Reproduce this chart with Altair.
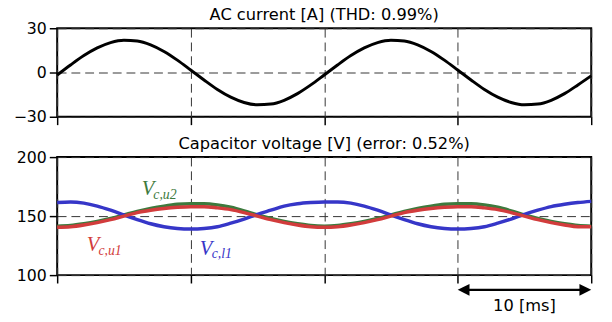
import altair as alt
import pandas as pd

# time axis [ms]
t_ms = list(range(0, 41))

# AC current [A]
current = [-1.7, 5.1, 11.5, 16.7, 20.3, 21.9, 21.4, 18.8, 14.3, 8.4,
           1.7, -5.1, -11.5, -16.7, -20.3, -21.9, -21.4, -18.8, -14.3, -8.4,
           -1.7, 5.1, 11.5, 16.7, 20.3, 21.9, 21.4, 18.8, 14.3, 8.4,
           1.7, -5.1, -11.5, -16.7, -20.3, -21.9, -21.4, -18.8, -14.3, -8.4,
           -2.2]

# Capacitor voltages [V]
v_l1 = [161.5, 162.0, 161.0, 158.5, 155.0, 151.0, 147.0, 143.5, 141.0, 139.5,
        139.0, 139.5, 141.0, 144.0, 147.5, 151.5, 155.0, 158.5, 160.5, 161.5,
        162.0, 162.0, 161.0, 158.5, 155.0, 151.0, 147.0, 143.5, 141.0, 139.5,
        139.0, 139.5, 141.0, 144.0, 147.5, 151.5, 155.0, 158.0, 160.0, 161.5,
        162.5]
v_u1 = [140.5, 141.0, 142.5, 144.5, 147.0, 150.0, 153.0, 155.0, 156.5, 157.5,
        158.0, 158.0, 157.0, 155.5, 153.0, 150.0, 147.0, 144.5, 142.5, 141.0,
        140.5, 141.0, 142.5, 144.5, 147.0, 150.0, 153.0, 155.0, 156.5, 157.5,
        158.0, 158.0, 157.0, 155.5, 153.0, 150.0, 147.0, 144.5, 142.5, 141.0,
        141.0]
v_u2 = [141.5, 142.0, 143.5, 145.5, 148.0, 151.0, 154.0, 156.5, 158.5, 160.0,
        160.5, 160.5, 159.5, 157.5, 154.5, 151.0, 148.0, 145.5, 143.5, 142.0,
        141.5, 142.0, 143.5, 145.5, 148.0, 151.0, 154.0, 156.5, 158.5, 160.0,
        160.5, 160.5, 159.5, 157.5, 154.5, 151.0, 148.0, 145.5, 143.5, 142.0,
        141.5]

series_names = ["Vc,u2", "Vc,l1", "Vc,u1"]
series_colors = ["#3d7a3d", "#3636c8", "#d23c3c"]

df_i = pd.DataFrame({"t": t_ms, "i": current})
df_v = pd.concat([
    pd.DataFrame({"t": t_ms, "v": v_u2, "s": "Vc,u2", "o": 0}),
    pd.DataFrame({"t": t_ms, "v": v_l1, "s": "Vc,l1", "o": 1}),
    pd.DataFrame({"t": t_ms, "v": v_u1, "s": "Vc,u1", "o": 2}),
])
one = pd.DataFrame({"k": [0]})

FONT = "DejaVu Sans"
SERIF = "Liberation Serif"
W = 543

xaxis = alt.Axis(values=[0, 10, 20, 30, 40], labels=False, title=None, grid=True,
                 gridDash=[9, 5], gridColor="#333333", gridOpacity=1, gridWidth=1,
                 tickSize=8, tickColor="black", tickWidth=1.5, domain=False)
xscale = alt.Scale(domain=[0, 40], nice=False, zero=False)


def yaxis(vals):
    return alt.Axis(values=vals, title=None, grid=True, gridDash=[9, 5],
                    gridColor="#333333", gridOpacity=1, gridWidth=1, tickSize=8,
                    tickColor="black", tickWidth=1.5, domain=False, labelFont=FONT,
                    labelFontSize=16, labelColor="black", labelPadding=3)


def title_mark(text):
    return alt.Chart(one).mark_text(font=FONT, fontSize=16.5, fontWeight="normal", color="black",
                                    baseline="alphabetic", align="center").encode(
        x=alt.value(W / 2), y=alt.value(-8.5), text=alt.value(text))


top_line = alt.Chart(df_i).mark_line(color="black", strokeWidth=3, interpolate="monotone").encode(
    x=alt.X("t:Q", scale=xscale, axis=xaxis),
    y=alt.Y("i:Q", scale=alt.Scale(domain=[-30, 30], nice=False), axis=yaxis([-30, 0, 30])),
)
top = alt.layer(top_line, title_mark("AC current [A] (THD: 0.99%)")).properties(width=W, height=90)

lines = alt.Chart(df_v).mark_line(strokeWidth=3.5, interpolate="monotone").encode(
    x=alt.X("t:Q", scale=xscale, axis=xaxis),
    y=alt.Y("v:Q", scale=alt.Scale(domain=[100, 200], nice=False, zero=False),
            axis=yaxis([100, 150, 200])),
    color=alt.Color("s:N", scale=alt.Scale(domain=series_names, range=series_colors), legend=None),
    order="o:Q",
)

lab_V = pd.DataFrame({"t": [6.33, 2.21, 10.68], "v": [168.1, 120.6, 117.3],
                      "txt": ["V", "V", "V"], "s": ["Vc,u2", "Vc,u1", "Vc,l1"]})
lab_sub = pd.DataFrame({"t": [7.2, 3.09, 11.57], "v": [164.8, 117.3, 114.8],
                        "txt": ["c,u2", "c,u1", "c,l1"], "s": ["Vc,u2", "Vc,u1", "Vc,l1"]})

colscale = alt.Scale(domain=series_names, range=series_colors)
txtV = alt.Chart(lab_V).mark_text(font=SERIF, fontStyle="italic", fontSize=21, fontWeight="normal",
                                  align="left", baseline="alphabetic").encode(
    x="t:Q", y="v:Q", text="txt:N", color=alt.Color("s:N", scale=colscale, legend=None))
txtS = alt.Chart(lab_sub).mark_text(font=SERIF, fontStyle="italic", fontSize=14, fontWeight="normal",
                                    align="left", baseline="alphabetic").encode(
    x="t:Q", y="v:Q", text="txt:N", color=alt.Color("s:N", scale=colscale, legend=None))

arrow = alt.Chart(one).mark_rule(color="black", strokeWidth=2.5).encode(
    x=alt.datum(30.8), x2=alt.datum(39.2), y=alt.value(135))
head_l = alt.Chart(one).mark_point(shape="M0,0 L1,-0.5 L1,0.5 Z", filled=True, opacity=1,
                                   color="black", size=576).encode(
    x=alt.datum(30), y=alt.value(135))
head_r = alt.Chart(one).mark_point(shape="M0,0 L-1,-0.5 L-1,0.5 Z", filled=True, opacity=1,
                                   color="black", size=576).encode(
    x=alt.datum(40), y=alt.value(135))
ms_txt = alt.Chart(one).mark_text(font=FONT, fontSize=16.5, fontWeight="normal", color="black",
                                  baseline="middle").encode(
    x=alt.datum(35), y=alt.value(151), text=alt.value("10 [ms]"))

bottom = alt.layer(lines, txtV, txtS, arrow, head_l, head_r, ms_txt,
                   title_mark("Capacitor voltage [V] (error: 0.52%)")).properties(width=W, height=120)

chart = alt.vconcat(top, bottom, spacing=8).properties(
    padding={"left": 4, "top": -5, "right": 5, "bottom": 0},
    background="white",
).configure_view(stroke="black", strokeWidth=2)

chart.save("out.html", embed_options={"renderer": "svg", "actions": False})
